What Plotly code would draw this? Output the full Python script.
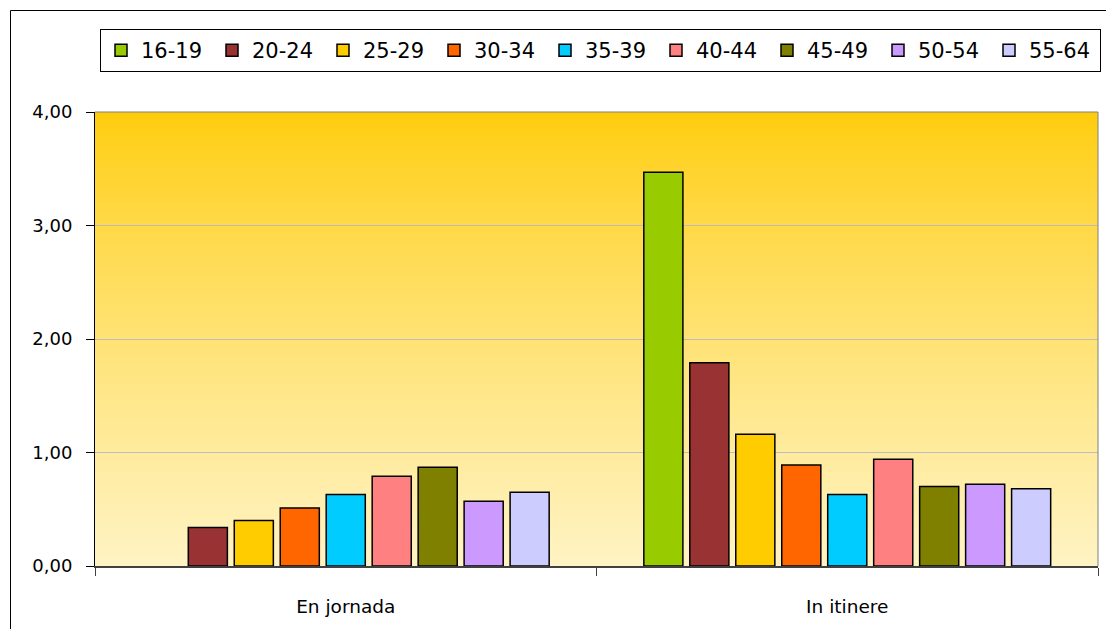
import plotly.graph_objects as go

categories = ["En jornada", "In itinere"]
age_groups = ["16-19", "20-24", "25-29", "30-34", "35-39", "40-44", "45-49", "50-54", "55-64"]
en_jornada = [None, 0.34, 0.40, 0.51, 0.63, 0.79, 0.87, 0.57, 0.65]
in_itinere = [3.47, 1.79, 1.16, 0.89, 0.63, 0.94, 0.70, 0.72, 0.68]
y_ticks = [0, 1, 2, 3, 4]

colors = ["#99CC00", "#993333", "#FFCC00", "#FF6600", "#00CCFF",
          "#FF8080", "#808000", "#CC99FF", "#CCCCFF"]

OFF = 8  # page body margin
W, H = 1114 - OFF, 629 - OFF
L, R, T, B = 95 - OFF, 1098 - OFF, 112 - OFF, 566 - OFF

fig = go.Figure()
for i, g in enumerate(age_groups):
    fig.add_trace(go.Bar(
        name=g, x=categories, y=[en_jornada[i], in_itinere[i]],
        marker=dict(color=colors[i], line=dict(color="black", width=1.5)),
    ))

# plot-area vertical gradient background (overlapping strips, no seams)
shapes = []
N = 120
top = (255, 204, 10)
bot = (255, 243, 196)
for k in range(N):
    t = (k + 0.5) / N
    tt = t ** 0.8
    c = tuple(round(top[j] + (bot[j] - top[j]) * tt) for j in range(3))
    shapes.append(dict(type="rect", xref="paper", yref="paper", layer="below",
                       x0=0, x1=1, y1=1 - k / N, y0=0,
                       fillcolor="rgb(%d,%d,%d)" % c, line=dict(width=0)))
# plot area border top/right (gray)
shapes.append(dict(type="line", xref="paper", yref="paper", x0=0, x1=1, y0=1, y1=1,
                   line=dict(color="#808080", width=1)))
shapes.append(dict(type="line", xref="paper", yref="paper", x0=1, x1=1, y0=0, y1=1,
                   line=dict(color="#808080", width=1)))
# outer chart border
pw, ph = R - L, B - T
shapes.append(dict(type="rect", xref="paper", yref="paper",
                   x0=(10.5 - OFF - L) / pw, x1=(1125 - L) / pw,
                   y0=(B - 640) / ph, y1=(B - (10.5 - OFF)) / ph,
                   line=dict(color="black", width=1), fillcolor="rgba(0,0,0,0)"))

fig.update_layout(
    width=W, height=H,
    margin=dict(l=L, r=W - R, t=T, b=H - B, pad=0),
    paper_bgcolor="white", plot_bgcolor="rgba(0,0,0,0)",
    separators=",.",
    barmode="group", bargap=0.175, bargroupgap=0.15,
    font=dict(family="DejaVu Sans", size=17, color="black"),
    showlegend=True,
    legend=dict(orientation="h", x=(100 - OFF - L) / pw, y=(B - (29 - OFF)) / ph,
                xanchor="left", yanchor="top",
                bordercolor="black", borderwidth=1, bgcolor="white",
                font=dict(family="DejaVu Sans", size=21, color="black"),
                entrywidth=66, entrywidthmode="pixels",
                traceorder="normal", itemclick=False),
    shapes=shapes,
)
fig.update_xaxes(showline=True, linecolor="#404040", linewidth=1.5,
                 ticks="outside", tickson="boundaries", ticklen=8, tickcolor="#404040",
                 showgrid=False, ticklabelstandoff=23,
                 tickfont=dict(family="DejaVu Sans", size=18.5))
fig.update_yaxes(range=[0, 4], tickvals=y_ticks, tickformat=".2f",
                 showline=True, linecolor="black", linewidth=1,
                 ticks="outside", ticklen=8, tickcolor="black",
                 showgrid=True, gridcolor="#BDBDBD", gridwidth=1,
                 zeroline=False, ticklabelstandoff=10,
                 tickfont=dict(family="DejaVu Sans", size=18))

fig.write_html("out.html")
